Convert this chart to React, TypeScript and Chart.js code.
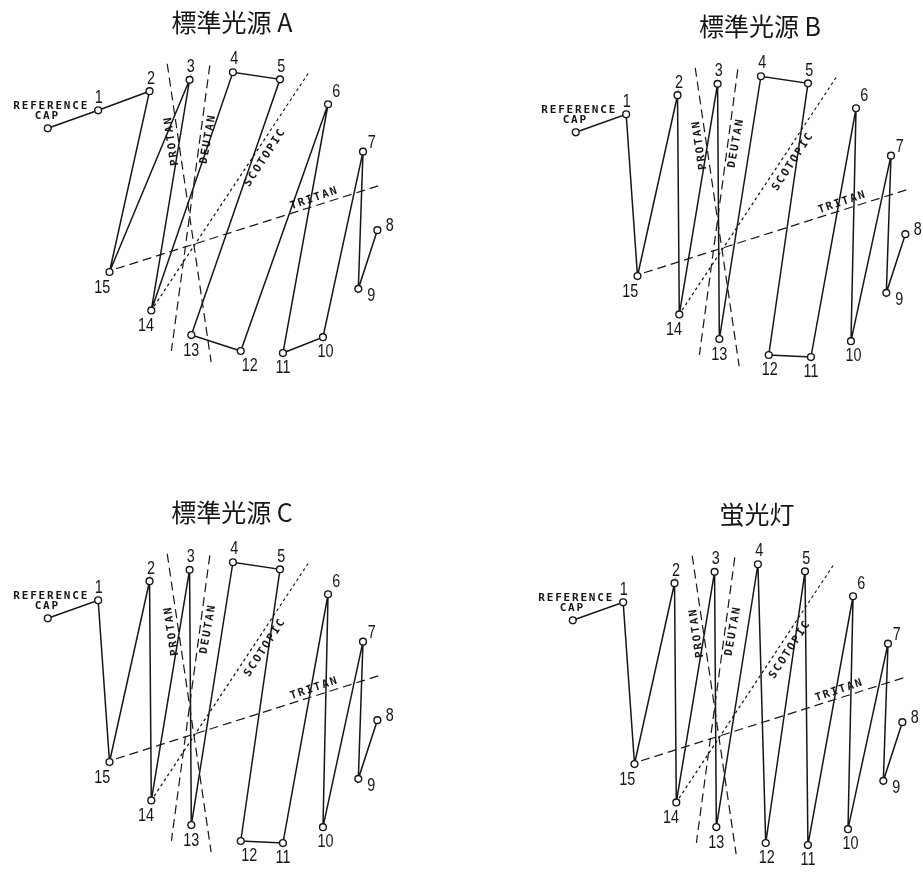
import React, { useEffect, useRef } from 'react';
import { Chart, registerables } from 'chart.js';
Chart.register(...registerables);

// Cap positions of the D-15 diagram (same in every panel); index 0 = reference cap
const capNames = ['REF', '1', '2', '3', '4', '5', '6', '7', '8', '9', '10', '11', '12', '13', '14', '15'];
const capX = [43.4, 95, 147.6, 188.6, 233, 281.2, 330.4, 366.2, 380.9, 361.4, 325.2, 284.2, 241, 190.4, 149.4, 106.6];
const capY = [126.3, 107.8, 88.2, 76.5, 68.7, 76, 101.6, 150.3, 231, 291.3, 341, 357.3, 355.2, 338.8, 313.5, 274];

// Cap arrangement orders for each illuminant
const panelTitles = ['標準光源 A', '標準光源 B', '標準光源 C', '蛍光灯'];
const orderA = [0, 1, 2, 15, 3, 14, 4, 5, 13, 12, 6, 11, 10, 7, 9, 8];
const orderB = [0, 1, 15, 2, 14, 3, 13, 4, 5, 12, 11, 6, 10, 7, 9, 8];
const orderC = [0, 1, 15, 2, 14, 3, 13, 4, 5, 12, 11, 6, 10, 7, 9, 8];
const orderD = [0, 1, 15, 2, 14, 3, 13, 4, 12, 5, 11, 6, 10, 7, 9, 8];

// Confusion axes
const axisNames = ['PROTAN', 'DEUTAN', 'SCOTOPIC', 'TRITAN'];
const axisStartX = [165.7, 209.3, 310, 113.3];
const axisStartY = [60, 61.7, 70, 270.7];
const axisEndX = [210.7, 170, 151, 383.3];
const axisEndY = [366.7, 355, 311, 185];

// ---- layout / style (not data) ----
const W = 460;
const H = 400;
const panelPos = [
  { left: 0, top: 0, dx12: 9 },
  { left: 527.5, top: 4, dx12: 1 },
  { left: 0, top: 490, dx12: 8.5 },
  { left: 525, top: 492, dx12: 1 },
];
const numOffsets: [number, number][] = [
  [0, 0], [0.5, -12.3], [1.5, -12], [1.2, -12.7], [1.3, -12.8], [1.3, -12.7], [8.2, -12.5],
  [8.8, -8.5], [12.5, -4], [13, 6.8], [2.5, 14.8], [0, 15], [5, 15.5], [0, 16], [-5.3, 15.5], [-7.2, 16.2],
];
const axisLabelPos = [
  { x: 170.5, y: 140, rot: -98.5 },
  { x: 207.5, y: 138, rot: -80 },
  { x: 265.5, y: 157, rot: -57 },
  { x: 315.5, y: 198.5, rot: -19 },
];
const axisDash = [[9, 5], [9, 5], [3, 3], [9, 5]];
const INK = '#161616';

const labelPlugin = {
  id: 'd15labels',
  afterDatasetsDraw(chart: any) {
    const opts = chart.options.plugins.d15labels;
    const { ctx } = chart;
    const xs = chart.scales.x;
    const ys = chart.scales.y;
    ctx.save();
    ctx.fillStyle = INK;
    // title
    ctx.font = '400 25px "Noto Sans CJK JP"';
    ctx.textAlign = 'center';
    ctx.textBaseline = 'middle';
    ctx.fillText(opts.title, xs.getPixelForValue(232), ys.getPixelForValue(17.5));

    // numbers
    for (let i = 1; i < capNames.length; i++) {
      let [dx, dy] = numOffsets[i];
      if (i === 12) dx = opts.dx12;
      const px = xs.getPixelForValue(capX[i]) + dx;
      const py = ys.getPixelForValue(capY[i]) + dy;
      ctx.save();
      ctx.translate(px, py);
      ctx.scale(0.8, 1);
      ctx.font = '18px "Liberation Sans"';
      ctx.fillText(capNames[i], 0, 0);
      ctx.restore();
    }

    // small caps labels
    const small = (t: string, x: number, y: number, rot: number) => {
      ctx.save();
      ctx.translate(xs.getPixelForValue(x), ys.getPixelForValue(y));
      ctx.rotate((rot * Math.PI) / 180);
      ctx.font = 'bold 11px "DejaVu Sans Mono"';
      (ctx as any).letterSpacing = '1.8px';
      ctx.textAlign = 'center';
      ctx.textBaseline = 'middle';
      ctx.fillText(t, 0.9, 0);
      ctx.restore();
    };
    small('REFERENCE', 46, 103.3, 0);
    small('CAP', 42, 114, 0);
    axisNames.forEach((n, i) => small(n, axisLabelPos[i].x, axisLabelPos[i].y, axisLabelPos[i].rot));
    ctx.restore();
  },
};

function Panel({ idx, order }: { idx: number; order: number[] }) {
  const ref = useRef<HTMLCanvasElement>(null);
  useEffect(() => {
    const seq = order.map((c) => ({ x: capX[c], y: capY[c] }));
    const axisSets = axisNames.map((n, i) => ({
      label: n,
      data: [
        { x: axisStartX[i], y: axisStartY[i] },
        { x: axisEndX[i], y: axisEndY[i] },
      ],
      showLine: true,
      borderColor: INK,
      borderWidth: 1.2,
      borderDash: axisDash[i],
      pointRadius: 0,
      clip: false as any,
    }));
    const chart = new Chart(ref.current as HTMLCanvasElement, {
      type: 'scatter',
      data: {
        datasets: [
          {
            label: panelTitles[idx],
            data: seq,
            showLine: true,
            borderColor: INK,
            borderWidth: 1.5,
            pointRadius: 3.4,
            pointBorderWidth: 1.4,
            pointBackgroundColor: '#ffffff',
            pointBorderColor: INK,
            clip: false as any,
          },
          ...axisSets,
        ],
      },
      options: {
        animation: false,
        responsive: false,
        events: [],
        layout: { padding: 0 },
        scales: {
          x: { type: 'linear', min: 0, max: W, display: false },
          y: { type: 'linear', min: 0, max: H, reverse: true, display: false },
        },
        plugins: {
          legend: { display: false },
          tooltip: { enabled: false },
          d15labels: { title: panelTitles[idx], dx12: panelPos[idx].dx12 },
        } as any,
      },
      plugins: [labelPlugin],
    });
    return () => chart.destroy();
  }, []);
  const p = panelPos[idx];
  return (
    <canvas
      ref={ref}
      width={W}
      height={H}
      style={{ position: 'absolute', left: p.left, top: p.top, width: W, height: H }}
    />
  );
}

export default function App() {
  return (
    <div
      style={{
        position: 'fixed',
        left: 0,
        top: 0,
        width: 923,
        height: 872,
        overflow: 'hidden',
        background: '#ffffff',
      }}
    >
      <Panel idx={0} order={orderA} />
      <Panel idx={1} order={orderB} />
      <Panel idx={2} order={orderC} />
      <Panel idx={3} order={orderD} />
    </div>
  );
}
